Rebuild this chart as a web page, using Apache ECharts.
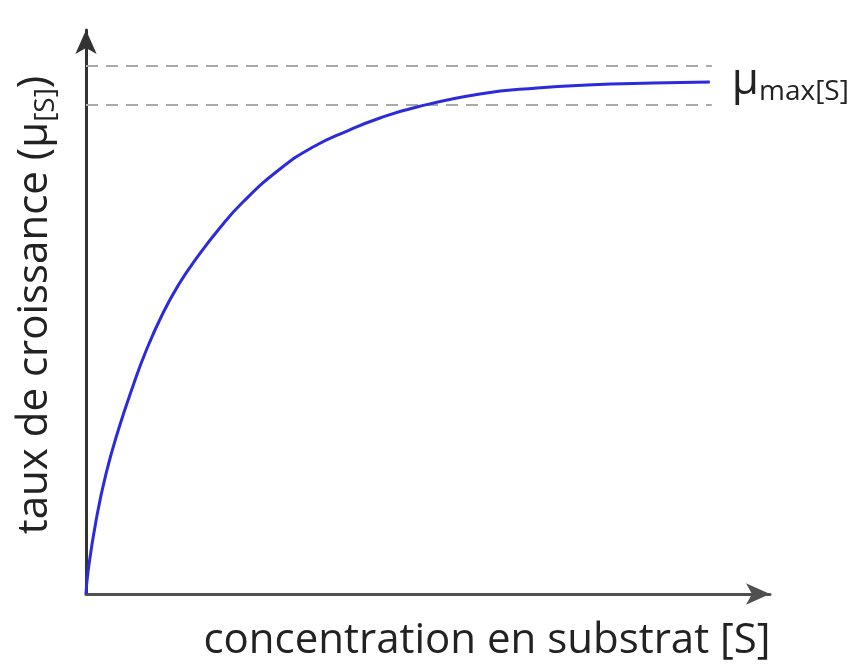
<!DOCTYPE html>
<html>
<head>
<meta charset="utf-8">
<script src="https://cdn.jsdelivr.net/npm/echarts@6/dist/echarts.min.js"></script>
<style>
  html, body { margin: 0; background: #fff; }
  #chart { width: 853px; height: 666px; }
</style>
</head>
<body>
<div id="chart"></div>
<script>
// substrate concentration [S] (arbitrary units) and growth rate μ
const substrate = [0, 0.29, 1.46, 2.92, 4.82, 6.87, 8.77, 11.26, 13.6, 16.08, 19.44, 22.95, 28.36, 33.19, 38.16, 42.98, 48.39, 57.6, 65.94, 73.25, 82.9, 91.2];
const growthRate = [0, 3.9, 12.94, 21.28, 29.43, 36.88, 43.09, 49.82, 54.96, 59.4, 64.72, 69.5, 75.35, 79.26, 82.09, 84.4, 86.35, 88.65, 89.72, 90.25, 90.6, 90.78];
// dashed guide levels around μmax
const guideLevels = [93.6, 86.7];
const guideStart = 0;
const guideEnd = 91.5;

const font = 'Open Sans';
const textColor = '#222';

const chart = echarts.init(document.getElementById('chart'));

const guideSeries = guideLevels.map(level => ({
  type: 'line',
  data: [[guideStart, level], [guideEnd, level]],
  symbol: 'none',
  silent: true,
  lineStyle: { color: '#aaa', width: 2, type: [12, 8] },
  z: 1
}));

const option = {
  backgroundColor: '#fff',
  animation: false,
  grid: { left: 86, right: 83, top: 30, bottom: 72 },
  xAxis: {
    type: 'value',
    min: 0,
    max: 100,
    axisLine: {
      onZero: false,
      lineStyle: { color: '#505050', width: 3 },
      symbol: ['none', 'arrow'],
      symbolSize: [16, 24]
    },
    axisTick: { show: false },
    axisLabel: { show: false },
    splitLine: { show: false }
  },
  yAxis: {
    type: 'value',
    min: 0,
    max: 100,
    axisLine: {
      show: true,
      onZero: false,
      lineStyle: { color: '#333', width: 3 },
      symbol: ['none', 'arrow'],
      symbolSize: [16, 24]
    },
    axisTick: { show: false },
    axisLabel: { show: false },
    splitLine: { show: false }
  },
  series: [
    ...guideSeries,
    {
      type: 'line',
      data: substrate.map((s, i) => [s, growthRate[i]]),
      smooth: 0.5,
      symbol: 'none',
      lineStyle: { color: '#2b2bdc', width: 3 },
      z: 3,
      endLabel: {
        show: true,
        distance: 22,
        formatter: '{m|μ}{s|max[S]}',
        rich: {
          m: { fontFamily: font, fontSize: 44, color: textColor, lineHeight: 46, verticalAlign: 'top' },
          s: { fontFamily: font, fontSize: 28, color: textColor, lineHeight: 30, verticalAlign: 'top', padding: [19, 0, 0, 0] }
        }
      }
    }
  ],
  graphic: [
    {
      type: 'text',
      x: 37,
      y: 305,
      rotation: Math.PI / 2,
      style: {
        text: '{t|taux de croissance (μ}{s|[S]}{t|)}',
        align: 'center',
        verticalAlign: 'middle',
        rich: {
          t: { fontFamily: font, fontSize: 42, fill: textColor, lineHeight: 46, verticalAlign: 'top' },
          s: { fontFamily: font, fontSize: 28, fill: textColor, lineHeight: 30, verticalAlign: 'top', padding: [18, 0, 0, 0] }
        }
      }
    },
    {
      type: 'text',
      x: 487,
      y: 641,
      style: {
        text: 'concentration en substrat [S]',
        font: '42px "Open Sans"',
        fill: textColor,
        align: 'center',
        verticalAlign: 'middle'
      }
    }
  ]
};

chart.setOption(option);
</script>
</body>
</html>
